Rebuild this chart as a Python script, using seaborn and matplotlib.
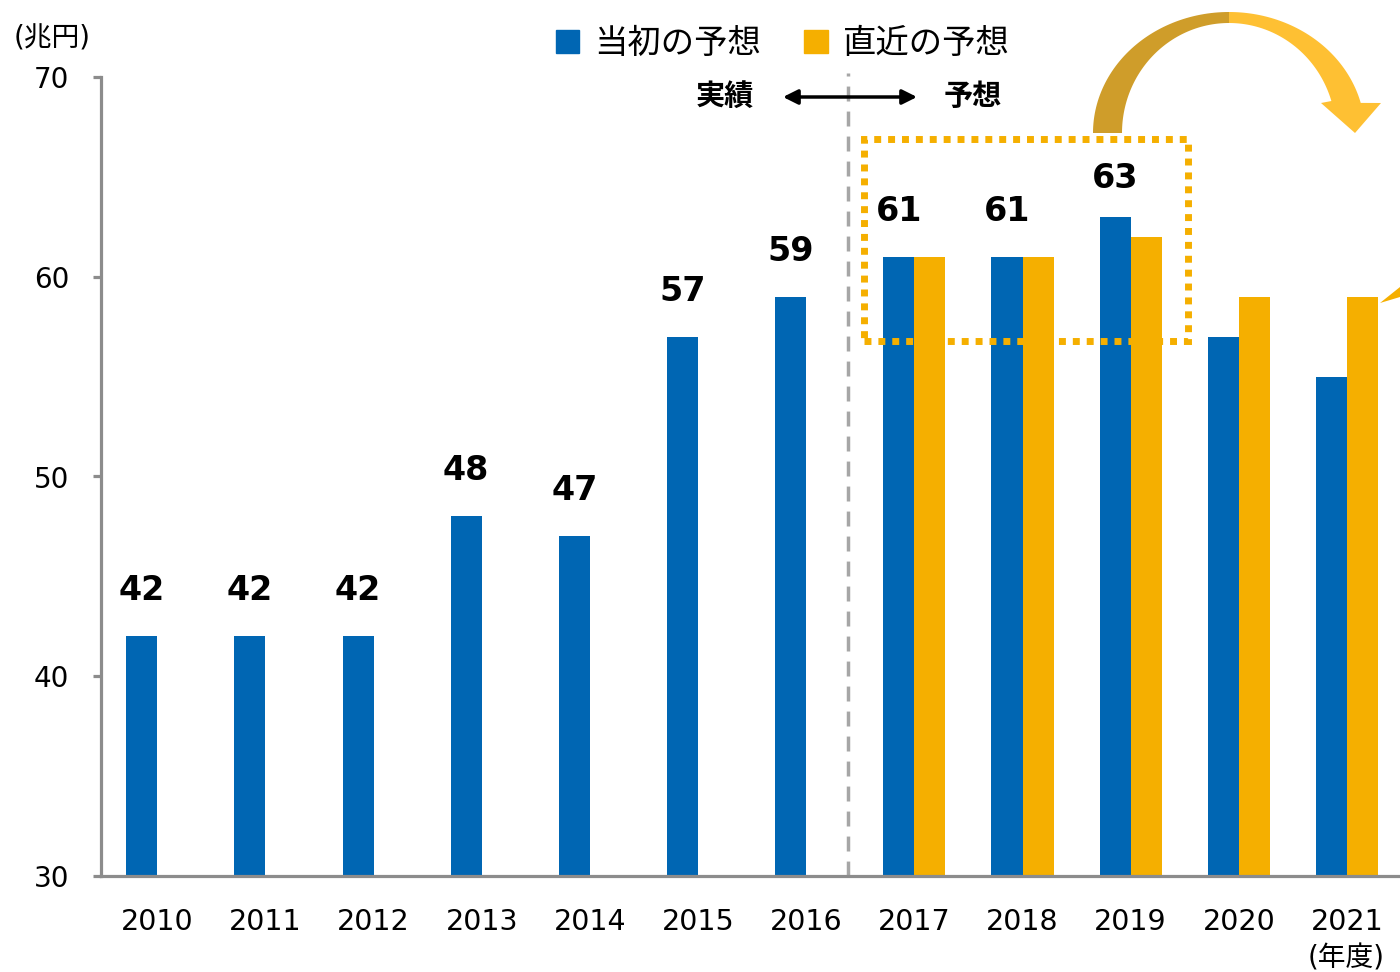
import pandas as pd
import numpy as np
import matplotlib.pyplot as plt
import seaborn as sns
from matplotlib.patches import Patch, Rectangle, Polygon

# data
years = ['2010', '2011', '2012', '2013', '2014', '2015', '2016',
         '2017', '2018', '2019', '2020', '2021']
initial_forecast = [42, 42, 42, 48, 47, 57, 59, 61, 61, 63, 57, 55]
latest_forecast = [np.nan] * 7 + [61, 61, 62, 59, 59]
label_years = years[:10]  # only these get a number on top

series_names = ['当初の予想', '直近の予想']
blue = '#0066B3'
yellow = '#F5AF00'
gray = '#8C8C8C'

df = pd.DataFrame({
    'year': years * 2,
    'series': [series_names[0]] * len(years) + [series_names[1]] * len(years),
    'value': initial_forecast + latest_forecast,
})

sns.set_style('white')
# DejaVu for the latin digits (verdana-like), Noto CJK for the japanese
plt.rcParams['font.family'] = ['DejaVu Sans', 'Noto Sans CJK JP']
plt.rcParams['text.color'] = 'black'
plt.rcParams['xtick.labelcolor'] = 'black'
plt.rcParams['ytick.labelcolor'] = 'black'

fig = plt.figure(figsize=(14, 9.72), dpi=100)
ax = fig.add_axes([101 / 1400, 1 - 876 / 972, 1299 / 1400, 799 / 972])

sns.barplot(data=df, x='year', y='value', hue='series', hue_order=series_names,
            palette=[blue, yellow], width=0.574, saturation=1, linewidth=0,
            dodge=True, legend=False, ax=ax)

ax.set_ylim(30, 70)
ax.set_xlim(-0.52, 11.49)
ax.set_yticks([30, 40, 50, 60, 70])
ax.set_xlabel('')
ax.set_ylabel('')
sns.despine(ax=ax)
for s in ['left', 'bottom']:
    ax.spines[s].set_color(gray)
    ax.spines[s].set_linewidth(2.3)
ax.tick_params(axis='y', left=True, length=6, width=2.3, color=gray, pad=17, labelsize=20)
ax.tick_params(axis='x', bottom=False, length=0, pad=23, labelsize=20.5)

# value labels over the blue bars
for bar, yr, v in zip(ax.containers[0], years, initial_forecast):
    if yr not in label_years:
        continue
    off = 16 if v == 63 else 21
    ax.annotate(str(v), (bar.get_x() + bar.get_width() / 2, v),
                xytext=(0, off), textcoords='offset points',
                ha='center', va='bottom', fontsize=24, fontweight='bold')

# actual / forecast divider and highlight box
ax.axvline(6.386, ymin=0, ymax=1.005, color='#A6A6A6', lw=2.5,
           dashes=(4.3, 2.9), clip_on=False, zorder=1)
ax.add_patch(Rectangle((6.534, 56.8), 2.995, 10.1, fill=False, edgecolor=yellow,
                       lw=5, linestyle=(0, (1, 1)), clip_on=False, zorder=4))

# legend
handles = [Patch(color=blue), Patch(color=yellow)]
fig.legend(handles, series_names, loc='center', bbox_to_anchor=(0.559, 0.955),
           ncol=2, frameon=False, fontsize=24, handlelength=0.7, handleheight=0.7,
           handletextpad=0.45, columnspacing=1.3)

# overlay in pixel coords for decorations
deco = fig.add_axes([0, 0, 1, 1], zorder=5)
deco.set_xlim(0, 1400)
deco.set_ylim(972, 0)
deco.axis('off')
deco.patch.set_alpha(0)

deco.text(52, 38, '(兆円)', fontsize=20, ha='center', va='center')
deco.text(1346, 958, '(年度)', fontsize=20, ha='center', va='center')
deco.text(725, 97, '実績', fontsize=21, fontweight='bold', ha='center', va='center')
deco.text(973, 97, '予想', fontsize=21, fontweight='bold', ha='center', va='center')
deco.annotate('', xy=(783, 97), xytext=(917, 97),
              arrowprops=dict(arrowstyle='<|-|>', lw=2.5, color='black', mutation_scale=22,
                              shrinkA=0, shrinkB=0))

# curved arrow
cx, cy = 1229, 133
t_left = np.radians(np.linspace(180, 90, 60))
left_pts = np.vstack([
    np.column_stack([cx + 136 * np.cos(t_left), cy - 121 * np.sin(t_left)]),
    np.column_stack([cx + 107 * np.cos(t_left[::-1]), cy - 110 * np.sin(t_left[::-1])]),
])
deco.add_patch(Polygon(left_pts, closed=True, color='#CF9D2A', lw=0))
t_out = np.radians(np.linspace(90, 14.4, 60))
t_in = np.radians(np.linspace(16.9, 90, 60))
right_pts = np.vstack([
    np.column_stack([cx + 136 * np.cos(t_out), cy - 121 * np.sin(t_out)]),
    [[1381, 103], [1355, 133], [1321, 103]],
    np.column_stack([cx + 107 * np.cos(t_in), cy - 110 * np.sin(t_in)]),
])
deco.add_patch(Polygon(right_pts, closed=True, color='#FEC033', lw=0))

# pointer cut at right edge
deco.add_patch(Polygon([[1380, 303], [1400, 287], [1400, 297]], closed=True,
                       color=yellow, lw=0))

fig.savefig('out.png', dpi=100)
